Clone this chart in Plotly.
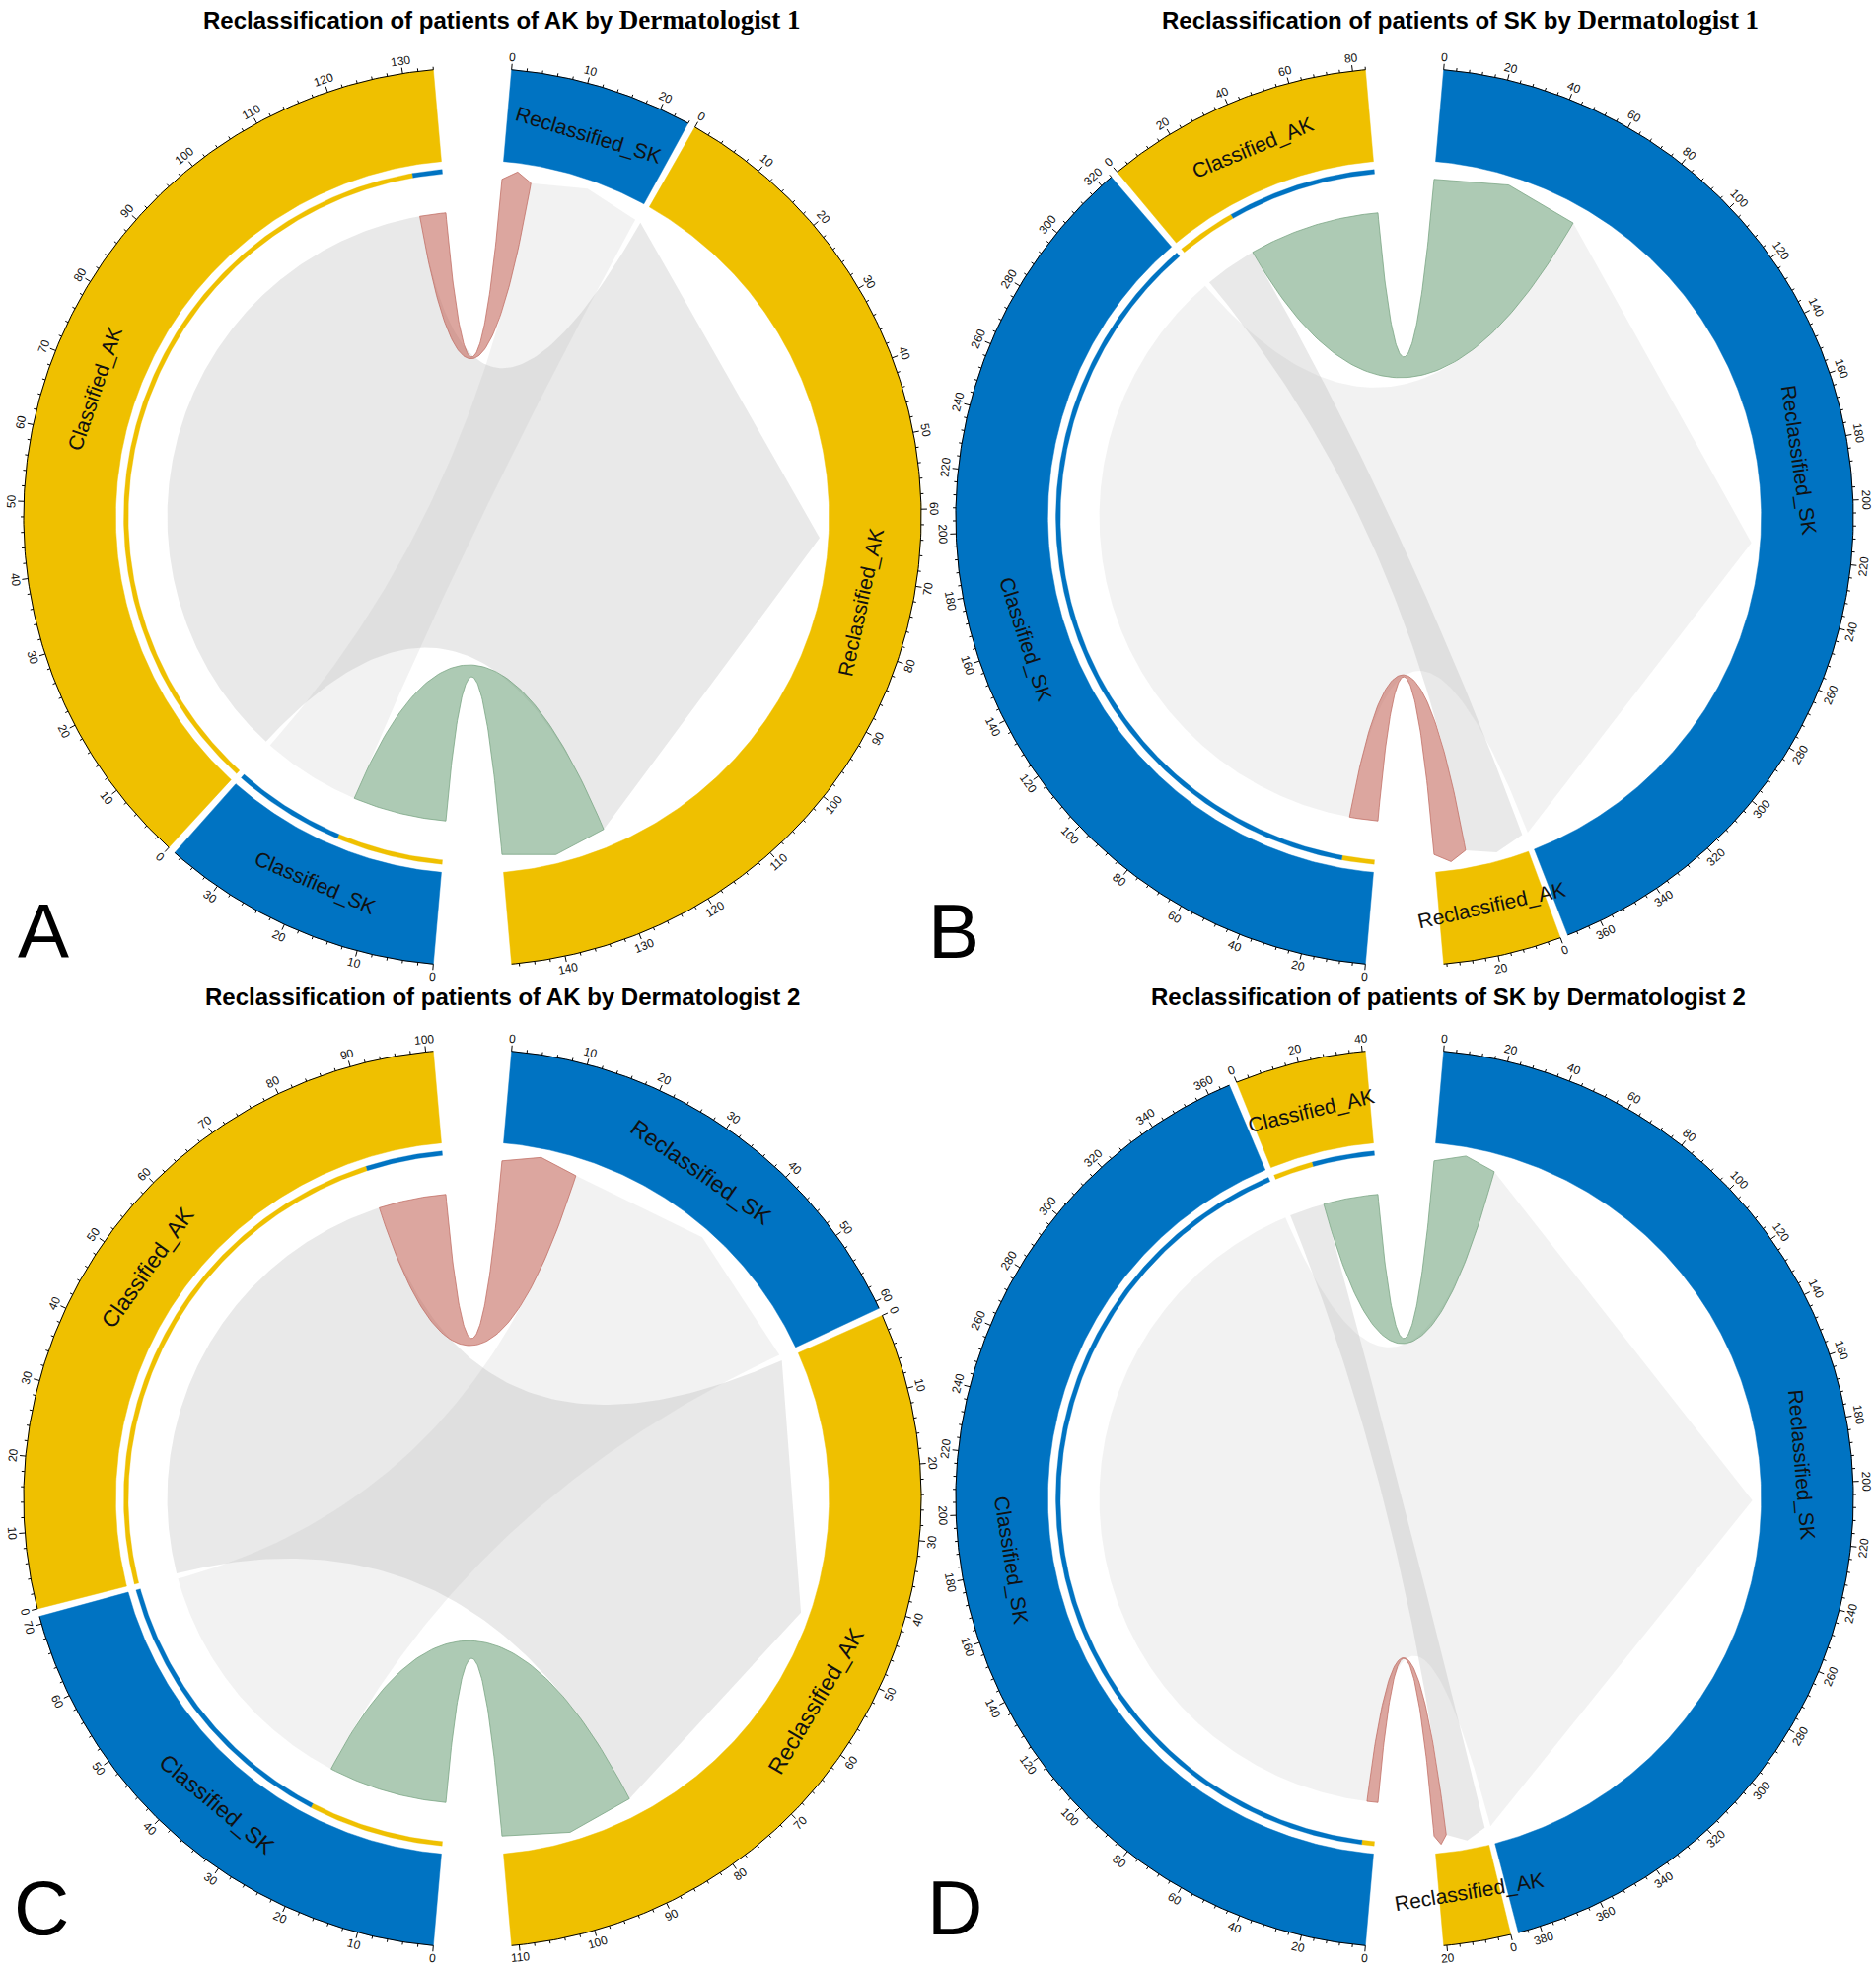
import numpy as np
import plotly.graph_objects as go

# ---------------- data ----------------
panel_letters = ["A", "B", "C", "D"]
title_main = ["Reclassification of patients of AK by ",
              "Reclassification of patients of SK by ",
              "Reclassification of patients of AK by Dermatologist 2",
              "Reclassification of patients of SK by Dermatologist 2"]
title_serif = ["Dermatologist 1", "Dermatologist 1", "", ""]
source_names = ["Classified_AK", "Classified_SK"]
target_names = ["Reclassified_AK", "Reclassified_SK"]
ak_to_ak = [129, 24, 88, 16]
ak_to_sk = [5, 60, 13, 25]
sk_to_ak = [18, 13, 23, 5]
sk_to_sk = [19, 311, 48, 362]
major_step = [10, 20, 10, 20]
minor_step = [2, 4, 2, 4]
ak_sk_link_colour = ["red", "green", "red", "green"]
sk_ak_link_colour = ["green", "red", "green", "red"]

# ---------------- style / layout ----------------
W, H = 1902, 1995
YELLOW = "#EFC000"
BLUE = "#0073C2"
FILLS = {"red": "rgba(198,112,100,0.62)", "green": "rgba(122,170,134,0.62)"}
LINES = {"red": "rgba(190,105,95,0.9)", "green": "rgba(115,160,125,0.9)"}
GREY_AK = "rgba(175,175,175,0.27)"
GREY_SK = "rgba(175,175,175,0.17)"
centers = [(479, 524), (1424, 524), (479, 1519), (1424, 1519)]
title_pos = [(509, 20), (1480, 20), (509, 1010), (1468, 1010)]
letter_pos = [(44, 944), (967, 944), (42, 1934), (968, 1934)]
name_size = [21, 21, 23, 21]
R = 455.0
BIG_GAP, SMALL_GAP = 10.0, 1.0
R_RING_IN, R_RING_OUT = 0.795, 1.0
R_BAR_IN, R_BAR_OUT = 0.767, 0.777
R_SRC, R_BASE, R_TIP = 0.68, 0.755, 0.775
R_NAME = 0.888
SANS = "Liberation Sans, Arial, sans-serif"


def pt(cx, cy, r, th):
    a = np.radians(th)
    return cx + r * np.sin(a), cy - r * np.cos(a)


def arc(cx, cy, r, t0, t1, n=None):
    if n is None:
        n = max(8, int(abs(t1 - t0) * 2) + 2)
    th = np.linspace(t0, t1, n)
    x, y = pt(cx, cy, r, th)
    return list(x), list(y)


def quad(p0, c, p2, n=90):
    t = np.linspace(0, 1, n)
    x = (1 - t) ** 2 * p0[0] + 2 * t * (1 - t) * c[0] + t ** 2 * p2[0]
    y = (1 - t) ** 2 * p0[1] + 2 * t * (1 - t) * c[1] + t ** 2 * p2[1]
    return list(x), list(y)


def annulus(cx, cy, r0, r1, t0, t1):
    xo, yo = arc(cx, cy, r1, t0, t1)
    xi, yi = arc(cx, cy, r0, t1, t0)
    return xo + xi + [xo[0]], yo + yi + [yo[0]]


def ribbon(cx, cy, s0, s1, t0, t1):
    rs, rb, rt = R_SRC * R, R_BASE * R, R_TIP * R
    xs, ys = arc(cx, cy, rs, s0, s1)
    b1x, b1y = quad(pt(cx, cy, rs, s1), (cx, cy), pt(cx, cy, rb, t0))
    tx, ty = pt(cx, cy, rt, (t0 + t1) / 2)
    e1x, e1y = pt(cx, cy, rb, t1)
    b2x, b2y = quad((e1x, e1y), (cx, cy), pt(cx, cy, rs, s0))
    X = xs + b1x + [tx, e1x] + b2x
    Y = ys + b1y + [ty, e1y] + b2y
    return X, Y


def nice_angle(th):
    th = th % 360
    return th - 180 if 90 < th < 270 else (th if th <= 90 else th - 360)


fig = go.Figure()
annotations = []

for i in range(4):
    cx, cy = centers[i]
    aa, ask, sa, ss = ak_to_ak[i], ak_to_sk[i], sk_to_ak[i], sk_to_sk[i]
    cls_ak, cls_sk = aa + ask, sa + ss
    rec_ak, rec_sk = aa + sa, ask + ss
    total = cls_ak + cls_sk
    d = (360 - 2 * BIG_GAP - 2 * SMALL_GAP) / (2 * total)
    rs0 = BIG_GAP / 2
    ra0 = rs0 + rec_sk * d + SMALL_GAP
    cs0 = 180 + BIG_GAP / 2
    ca0 = cs0 + cls_sk * d + SMALL_GAP
    sectors = [(target_names[1], rs0, rec_sk, BLUE),
               (target_names[0], ra0, rec_ak, YELLOW),
               (source_names[1], cs0, cls_sk, BLUE),
               (source_names[0], ca0, cls_ak, YELLOW)]

    # outer grid ring
    for name, st, tot, col in sectors:
        X, Y = annulus(cx, cy, R_RING_IN * R, R_RING_OUT * R, st, st + tot * d)
        fig.add_trace(go.Scatter(x=X, y=Y, mode="lines", fill="toself", fillcolor=col,
                                 line=dict(color=col, width=0.5), hoverinfo="skip", showlegend=False))

    # thin target-proportion bars on source sectors
    bars = [(ca0, aa, YELLOW), (ca0 + aa * d, ask, BLUE),
            (cs0, sa, YELLOW), (cs0 + sa * d, ss, BLUE)]
    for st, v, col in bars:
        X, Y = annulus(cx, cy, R_BAR_IN * R, R_BAR_OUT * R, st, st + v * d)
        fig.add_trace(go.Scatter(x=X, y=Y, mode="lines", fill="toself", fillcolor=col,
                                 line=dict(color=col, width=0.3), hoverinfo="skip", showlegend=False))

    # links
    links = [
        (ca0, ca0 + aa * d, ra0, ra0 + aa * d, GREY_AK, "rgba(0,0,0,0)"),
        (cs0 + sa * d, cs0 + cls_sk * d, rs0 + ask * d, rs0 + rec_sk * d, GREY_SK, "rgba(0,0,0,0)"),
        (ca0 + aa * d, ca0 + cls_ak * d, rs0, rs0 + ask * d,
         FILLS[ak_sk_link_colour[i]], LINES[ak_sk_link_colour[i]]),
        (cs0, cs0 + sa * d, ra0 + aa * d, ra0 + rec_ak * d,
         FILLS[sk_ak_link_colour[i]], LINES[sk_ak_link_colour[i]]),
    ]
    for s0, s1, t0, t1, fc, lc in links:
        X, Y = ribbon(cx, cy, s0, s1, t0, t1)
        fig.add_trace(go.Scatter(x=X, y=Y, mode="lines", fill="toself", fillcolor=fc,
                                 line=dict(color=lc, width=0.8), hoverinfo="skip", showlegend=False))

    # axis: line, ticks, labels
    tx, ty = [], []
    for name, st, tot, col in sectors:
        X, Y = arc(cx, cy, R, st, st + tot * d)
        tx += X + [None]
        ty += Y + [None]
        v = 0
        while v <= tot + 1e-9:
            th = st + v * d
            major = (v % major_step[i] == 0)
            ln = 6 if major else 3
            x0, y0 = pt(cx, cy, R, th)
            x1, y1 = pt(cx, cy, R + ln, th)
            tx += [x0, x1, None]
            ty += [y0, y1, None]
            if major:
                lx, ly = pt(cx, cy, R + 13, th)
                annotations.append(dict(x=lx, y=ly, xref="x", yref="y", text=str(int(v)),
                                        showarrow=False, textangle=nice_angle(th),
                                        font=dict(family=SANS, size=12, color="#111"),
                                        xanchor="center", yanchor="middle"))
            v += minor_step[i]
        # sector name
        mid = st + tot * d / 2
        nx, ny = pt(cx, cy, R_NAME * R, mid)
        annotations.append(dict(x=nx, y=ny, xref="x", yref="y", text=name, showarrow=False,
                                textangle=nice_angle(mid),
                                font=dict(family=SANS, size=name_size[i], color="#111"),
                                xanchor="center", yanchor="middle"))
    fig.add_trace(go.Scatter(x=tx, y=ty, mode="lines", line=dict(color="black", width=1),
                             hoverinfo="skip", showlegend=False))

    # title
    txt = title_main[i]
    if title_serif[i]:
        txt += ("<span style='font-family:Liberation Serif, Times New Roman, serif;font-size:27px'>"
                + title_serif[i] + "</span>")
    annotations.append(dict(x=title_pos[i][0], y=title_pos[i][1], xref="x", yref="y",
                            text="<b>" + txt + "</b>", showarrow=False,
                            font=dict(family=SANS, size=24, color="black"),
                            xanchor="center", yanchor="middle"))
    annotations.append(dict(x=letter_pos[i][0], y=letter_pos[i][1], xref="x", yref="y",
                            text=panel_letters[i], showarrow=False,
                            font=dict(family=SANS, size=78, color="black"),
                            xanchor="center", yanchor="middle"))

fig.update_layout(
    width=W, height=H, margin=dict(l=0, r=0, t=0, b=0),
    paper_bgcolor="white", plot_bgcolor="white",
    xaxis=dict(range=[0, W], visible=False, fixedrange=True),
    yaxis=dict(range=[H, 0], visible=False, fixedrange=True),
    annotations=annotations, showlegend=False,
)

fig.write_html("out.html", config={"displayModeBar": False},
               post_script="document.body.style.margin='0';document.body.style.overflow='hidden';")
